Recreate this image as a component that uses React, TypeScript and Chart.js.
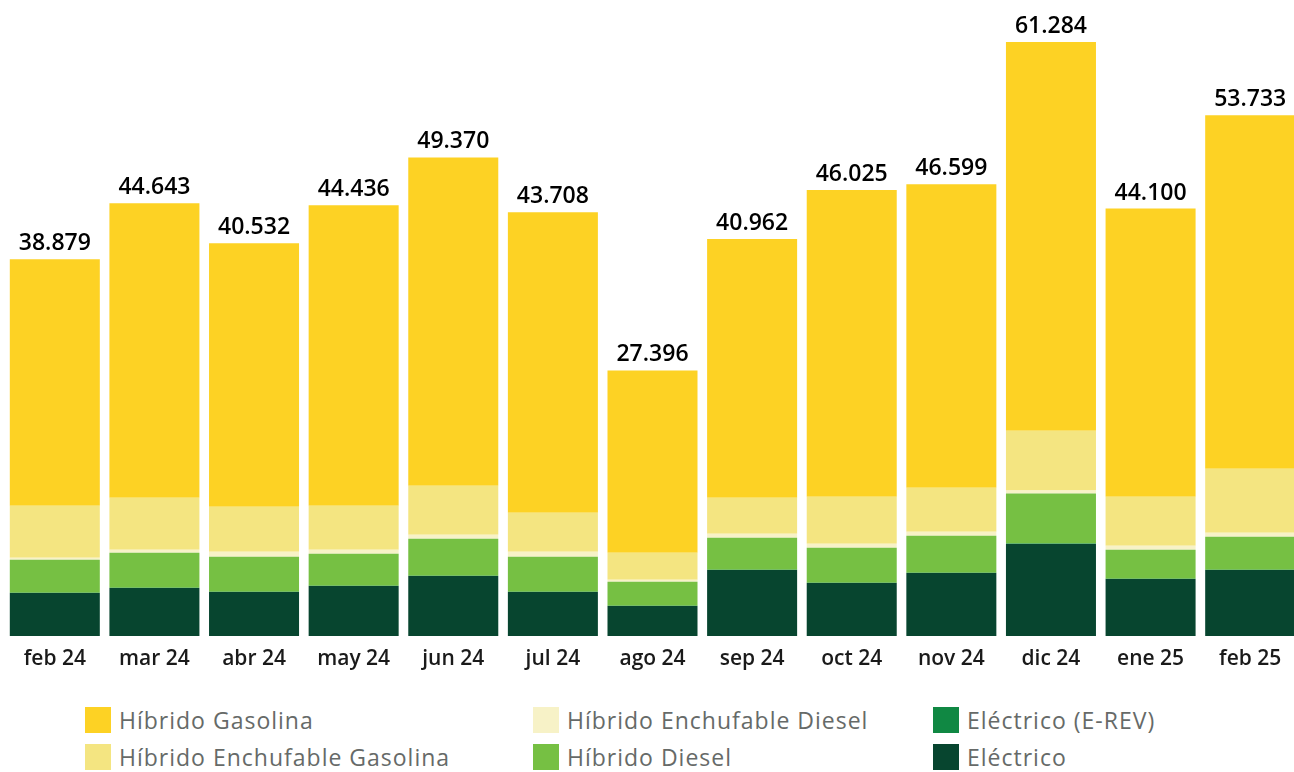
import React, { useEffect, useRef } from "react";
import { Chart, registerables } from "chart.js";

Chart.register(...registerables);

const categories = ["feb 24", "mar 24", "abr 24", "may 24", "jun 24", "jul 24", "ago 24", "sep 24", "oct 24", "nov 24", "dic 24", "ene 25", "feb 25"];

const totals = [38879, 44643, 40532, 44436, 49370, 43708, 27396, 40962, 46025, 46599, 61284, 44100, 53733];

const electrico = [4434, 4949, 4537, 5156, 6187, 4537, 3093, 6806, 5465, 6496, 9486, 5877, 6806];
const electricoErev = [30, 40, 30, 40, 40, 30, 20, 40, 40, 40, 50, 30, 40];
const hibridoDiesel = [3403, 3609, 3609, 3300, 3815, 3609, 2475, 3300, 3609, 3815, 5156, 2990, 3403];
const hibridoEnchDiesel = [206, 309, 516, 412, 412, 516, 206, 412, 412, 412, 309, 412, 412];
const hibridoEnchGasolina = [5362, 5362, 4640, 4537, 5053, 4021, 2784, 3712, 4846, 4537, 6187, 5053, 6599];
const hibridoGasolina = [25444, 30374, 27200, 30991, 33863, 30995, 18818, 26692, 31653, 31299, 40096, 29738, 36473];

const COLORS = {
  hg: "#FDD224",
  heg: "#F4E581",
  hed: "#F7F2C7",
  hd: "#76C043",
  erev: "#108843",
  e: "#07452F",
};

const legendItems = [
  { label: "Híbrido Gasolina", color: COLORS.hg, col: 0, row: 0 },
  { label: "Híbrido Enchufable Gasolina", color: COLORS.heg, col: 0, row: 1 },
  { label: "Híbrido Enchufable Diesel", color: COLORS.hed, col: 1, row: 0 },
  { label: "Híbrido Diesel", color: COLORS.hd, col: 1, row: 1 },
  { label: "Eléctrico (E-REV)", color: COLORS.erev, col: 2, row: 0 },
  { label: "Eléctrico", color: COLORS.e, col: 2, row: 1 },
];

const FONT = "'Open Sans', 'Noto Sans', sans-serif";

function formatNum(v: number): string {
  return v.toString().replace(/\B(?=(\d{3})+(?!\d))/g, ".");
}

const totalsPlugin = {
  id: "totalsLabels",
  afterDatasetsDraw(chart: any) {
    const ctx = chart.ctx;
    const meta = chart.getDatasetMeta(0);
    const yScale = chart.scales.y;
    ctx.save();
    ctx.font = `600 23px ${FONT}`;
    ctx.fillStyle = "#000000";
    ctx.textAlign = "center";
    ctx.textBaseline = "alphabetic";
    totals.forEach((t, i) => {
      const x = meta.data[i].x;
      const y = yScale.getPixelForValue(t);
      ctx.fillText(formatNum(t), x, y - 9);
    });
    ctx.restore();
  },
};

export default function App() {
  const canvasRef = useRef<HTMLCanvasElement | null>(null);

  useEffect(() => {
    if (!canvasRef.current) return;
    const mk = (label: string, data: number[], color: string) => ({
      label,
      data,
      backgroundColor: color,
      borderWidth: 0,
      barPercentage: 0.9036,
      categoryPercentage: 1,
    });
    const chart = new Chart(canvasRef.current, {
      type: "bar",
      data: {
        labels: categories,
        datasets: [
          mk("Eléctrico", electrico, COLORS.e),
          mk("Eléctrico (E-REV)", electricoErev, COLORS.erev),
          mk("Híbrido Diesel", hibridoDiesel, COLORS.hd),
          mk("Híbrido Enchufable Diesel", hibridoEnchDiesel, COLORS.hed),
          mk("Híbrido Enchufable Gasolina", hibridoEnchGasolina, COLORS.heg),
          mk("Híbrido Gasolina", hibridoGasolina, COLORS.hg),
        ],
      },
      options: {
        animation: false,
        responsive: false,
        maintainAspectRatio: false,
        layout: { padding: { top: 6, left: 5, right: 0, bottom: 4 } },
        plugins: {
          legend: { display: false },
          tooltip: { enabled: false },
        },
        scales: {
          x: {
            stacked: true,
            grid: { display: false, drawTicks: false },
            border: { display: false },
            ticks: {
              padding: 10,
              color: "#1a1a1a",
              font: { family: FONT, size: 21, weight: "600" },
              maxRotation: 0,
              autoSkip: false,
            },
            afterFit(scale: any) {
              scale.height = 50;
            },
          },
          y: {
            stacked: true,
            display: false,
            min: 0,
            max: 65000,
          },
        },
      },
      plugins: [totalsPlugin],
    });
    return () => chart.destroy();
  }, []);

  const colX = [85, 533, 933];
  const rowY = [707, 744];

  return (
    <div style={{ position: "absolute", left: 0, top: 0, width: 1294, height: 772, overflow: "hidden", background: "#fff" }}>
      <canvas ref={canvasRef} width={1300} height={690} style={{ position: "absolute", left: 0, top: 0, width: 1300, height: 690 }} />
      {legendItems.map((it) => (
        <div
          key={it.label}
          style={{
            position: "absolute",
            left: colX[it.col],
            top: rowY[it.row],
            height: 26,
            display: "flex",
            alignItems: "center",
            fontFamily: FONT,
            fontSize: 23,
            letterSpacing: "1px",
            color: "#666a68",
            whiteSpace: "nowrap",
          }}
        >
          <span style={{ display: "inline-block", width: 26, height: 26, background: it.color, marginRight: 8 }} />
          <span>{it.label}</span>
        </div>
      ))}
    </div>
  );
}
